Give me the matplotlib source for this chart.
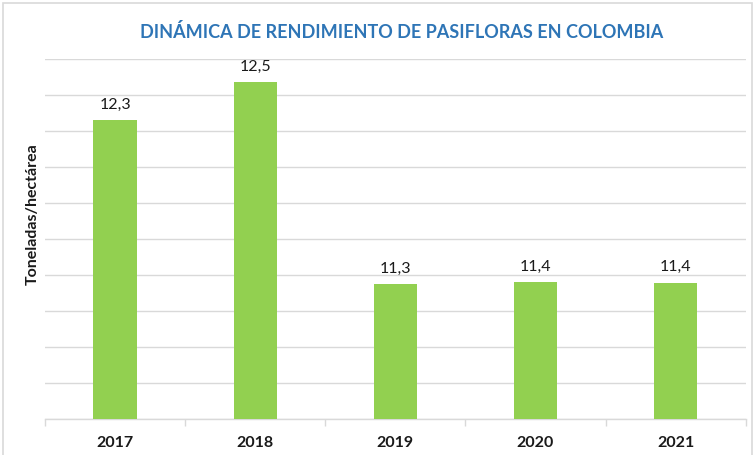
import matplotlib
matplotlib.use('Agg')
import numpy as np
import matplotlib.pyplot as plt
from matplotlib.patches import Rectangle

# data (axis 10,6 - 12,6, step 0,2)
years = ['2017', '2018', '2019', '2020', '2021']
rendimiento = [12.26, 12.47, 11.349, 11.363, 11.359]
ymin, ymax, ystep = 10.6, 12.6, 0.2

plt.rcParams['font.family'] = ['Lato', 'DejaVu Sans']

fig = plt.figure(figsize=(7.53, 4.55), dpi=100)
fig.patches.append(Rectangle((0.004, -0.01), 0.995, 1.004, transform=fig.transFigure,
                             fill=False, edgecolor='#d9d9d9', linewidth=1.2))

ax = fig.add_axes([0.0598, 0.0785, 0.9305, 0.792])
x = np.arange(len(years))
ax.bar(x, [v - ymin for v in rendimiento], bottom=ymin, width=0.31,
       color='#92D050', zorder=3)

for xi, v in zip(x, rendimiento):
    ax.annotate(('%.1f' % v).replace('.', ','), (xi, v), xytext=(0, 6),
                textcoords='offset points', ha='center', va='bottom',
                fontsize=11.5, color='#1a1a1a')

ax.set_xlim(-0.5, len(years) - 0.5)
ax.set_ylim(ymin, ymax)
ax.set_yticks(np.arange(ymin, ymax + ystep / 2, ystep))
ax.yaxis.grid(True, color='#d9d9d9', linewidth=1.0, zorder=0)
ax.tick_params(axis='y', length=0, labelleft=False)

ax.set_xticks(x)
ax.set_xticklabels(years, fontsize=11.5, fontweight='bold', color='#1a1a1a')
ax.set_xticks(np.arange(-0.5, len(years)), minor=True)
ax.tick_params(axis='x', which='major', length=0, pad=12)
ax.tick_params(axis='x', which='minor', length=5, width=1, color='#d9d9d9')

for s in ['top', 'right', 'left']:
    ax.spines[s].set_visible(False)
ax.spines['bottom'].set_color('#d9d9d9')
ax.spines['bottom'].set_linewidth(1.0)

fig.text(0.044, 0.53, 'Toneladas/hectárea', rotation=90, ha='center', va='center',
         fontsize=11.5, fontweight='bold', color='#1a1a1a')
fig.text(0.534, 0.93, 'DINÁMICA DE RENDIMIENTO DE PASIFLORAS EN COLOMBIA',
         ha='center', va='center', fontsize=13, fontweight='bold', color='#2E75B6')

fig.savefig('out.png', dpi=100)
